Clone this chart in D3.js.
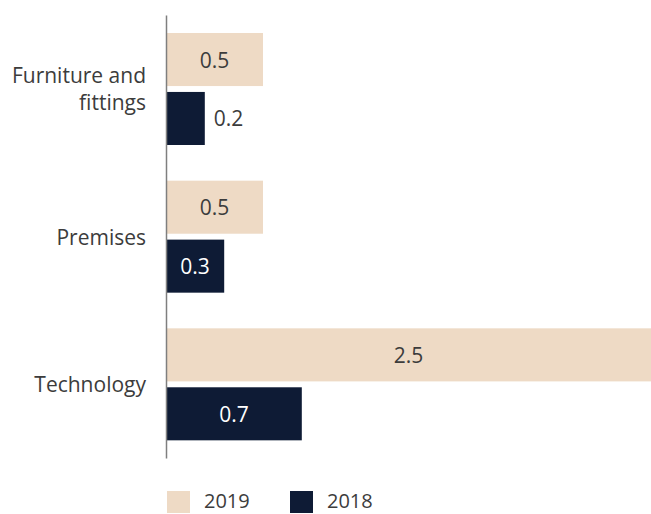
<!DOCTYPE html>
<html>
<head>
<meta charset="utf-8">
<script src="https://cdn.jsdelivr.net/npm/d3@7"></script>
<style>
  body { margin: 0; background: #fff; }
  svg { display: block; }
  text { font-family: "Open Sans", "Noto Sans", sans-serif; }
</style>
</head>
<body>
<div id="chart"></div>
<script>
// données
const categories = ['Furniture and fittings', 'Premises', 'Technology'];
const categoryLines = [['Furniture and', 'fittings'], ['Premises'], ['Technology']];
const years = ['2019', '2018'];
const values2019 = [0.5, 0.5, 2.5];
const values2018 = [0.2, 0.3, 0.7];

const colors = { '2019': '#eedac5', '2018': '#0e1b35' };
const textColor = '#3c3c3c';

const width = 651;
const height = 514;
const axisX = 166;

const rows = [];
categories.forEach((c, i) => {
  rows.push({ cat: c, year: '2019', value: values2019[i] });
  rows.push({ cat: c, year: '2018', value: values2018[i] });
});

const svg = d3.select('#chart').append('svg')
  .attr('width', width)
  .attr('height', height);

// échelles
const xScale = d3.scaleLinear().domain([0, 2.5]).range([axisX, width]);
const yScale = d3.scaleBand().domain(categories).range([15, 458]);
const ySub = d3.scaleBand().domain(years)
  .range([18, 130])
  .paddingInner(0.1)
  .paddingOuter(0);

// barres
svg.append('g').selectAll('rect')
  .data(rows)
  .enter()
  .append('rect')
  .attr('x', xScale(0))
  .attr('y', d => yScale(d.cat) + ySub(d.year))
  .attr('width', d => xScale(d.value) - xScale(0))
  .attr('height', ySub.bandwidth())
  .attr('fill', d => colors[d.year]);

// étiquettes des valeurs
const isSmall = d => xScale(d.value) - xScale(0) < 45;
svg.append('g').selectAll('text')
  .data(rows)
  .enter()
  .append('text')
  .text(d => d.value.toFixed(1))
  .attr('x', d => isSmall(d) ? xScale(d.value) + 9 : (xScale(0) + xScale(d.value)) / 2)
  .attr('y', d => yScale(d.cat) + ySub(d.year) + ySub.bandwidth() / 2)
  .attr('text-anchor', d => isSmall(d) ? 'start' : 'middle')
  .attr('dominant-baseline', 'central')
  .attr('font-size', 21)
  .attr('fill', d => (d.year === '2018' && !isSmall(d)) ? '#ffffff' : textColor);

// axe vertical
svg.append('g')
  .attr('transform', `translate(${axisX},0)`)
  .call(d3.axisLeft(yScale).tickSize(0).tickFormat(''))
  .call(g => g.select('.domain').attr('stroke', '#7f7f7f').attr('stroke-width', 1.5));

// libellés des catégories
const catLabels = svg.append('g').selectAll('text')
  .data(categories)
  .enter()
  .append('text')
  .attr('text-anchor', 'end')
  .attr('font-size', 21)
  .attr('fill', textColor);

catLabels.each(function (d, i) {
  const lines = categoryLines[i];
  const center = yScale(d) + yScale.bandwidth() / 2;
  const lh = 27;
  d3.select(this).selectAll('tspan')
    .data(lines)
    .enter()
    .append('tspan')
    .attr('x', 146)
    .attr('y', (l, j) => center + (j - (lines.length - 1) / 2) * lh)
    .attr('dominant-baseline', 'central')
    .text(l => l);
});

// légende
const legendX = [167, 290];
const legend = svg.append('g').selectAll('g')
  .data(years)
  .enter()
  .append('g')
  .attr('transform', (d, i) => `translate(${legendX[i]},491)`);

legend.append('rect')
  .attr('width', 23)
  .attr('height', 22)
  .attr('fill', d => colors[d]);

legend.append('text')
  .text(d => d)
  .attr('x', 37)
  .attr('y', 17)
  .attr('font-size', 20)
  .attr('fill', textColor);
</script>
</body>
</html>
